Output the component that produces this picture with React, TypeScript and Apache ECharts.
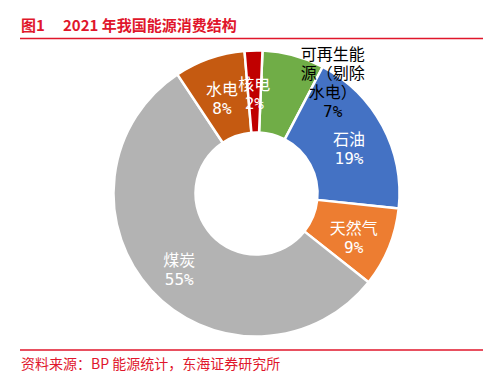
import React, { useEffect, useRef } from "react";
import * as echarts from "echarts";

const categories = ["可再生能源（剔除水电）", "石油", "天然气", "煤炭", "水电", "核电"];
const labelNames = ["可再生能\n源（剔除\n水电）", "石油", "天然气", "煤炭", "水电", "核电"];
const values = [7, 19, 9, 55, 8, 2];
const colors = ["#70AD47", "#4472C4", "#ED7D31", "#B3B3B3", "#C55A11", "#C00000"];
const titleNo = "图1";
const titleText = "2021 年我国能源消费结构";
const sourceText = "资料来源：BP 能源统计，东海证券研究所";

const RED = "#E0162B";
const FONT = "'DejaVu Sans Mono', 'Noto Sans CJK SC', sans-serif";

export default function App() {
  const ref = useRef<HTMLDivElement>(null);
  useEffect(() => {
    document.body.style.margin = "0";
    const chart = echarts.init(ref.current!, null, { renderer: "svg" });
    chart.setOption({
      animation: false,
      backgroundColor: "#fff",
      graphic: [
        {
          type: "text",
          left: 21,
          top: 17,
          style: { text: titleNo, fill: RED, font: "bold 15px 'Noto Sans CJK SC', sans-serif" },
        },
        {
          type: "text",
          left: 63,
          top: 17,
          style: { text: titleText, fill: RED, font: "bold 15px 'Noto Sans CJK SC', sans-serif" },
        },
        {
          type: "line",
          shape: { x1: 20, y1: 38.5, x2: 483, y2: 38.5 },
          style: { stroke: RED, lineWidth: 1.5 },
        },
        {
          type: "line",
          shape: { x1: 20, y1: 350, x2: 483, y2: 350 },
          style: { stroke: RED, lineWidth: 1.5 },
        },
        {
          type: "text",
          left: 21,
          top: 356,
          style: { text: sourceText, fill: RED, font: "14px 'Noto Sans CJK SC', sans-serif" },
        },
      ],
      series: [
        {
          type: "pie",
          center: [256.5, 193.5],
          radius: [61, 143],
          startAngle: 87.6,
          clockwise: true,
          avoidLabelOverlap: false,
          itemStyle: { borderColor: "#fff", borderWidth: 2.5 },
          label: {
            show: true,
            position: "inside",
            color: "#fff",
            fontSize: 16,
            lineHeight: 19,
            fontFamily: FONT,
            formatter: (p: any) => labelNames[p.dataIndex] + "\n" + p.value + "%",
          },
          labelLine: { show: false },
          labelLayout: (p: any) => (p.dataIndex === 0 ? { dx: 49, dy: -9 } : { dy: 5 }),
          data: categories.map((c, i) => ({
            name: c,
            value: values[i],
            itemStyle: { color: colors[i] },
            label: i === 0 ? { color: "#000", lineHeight: 19 } : undefined,
          })),
        },
      ],
    });
    return () => chart.dispose();
  }, []);
  return <div ref={ref} style={{ width: 497, height: 377 }} />;
}
